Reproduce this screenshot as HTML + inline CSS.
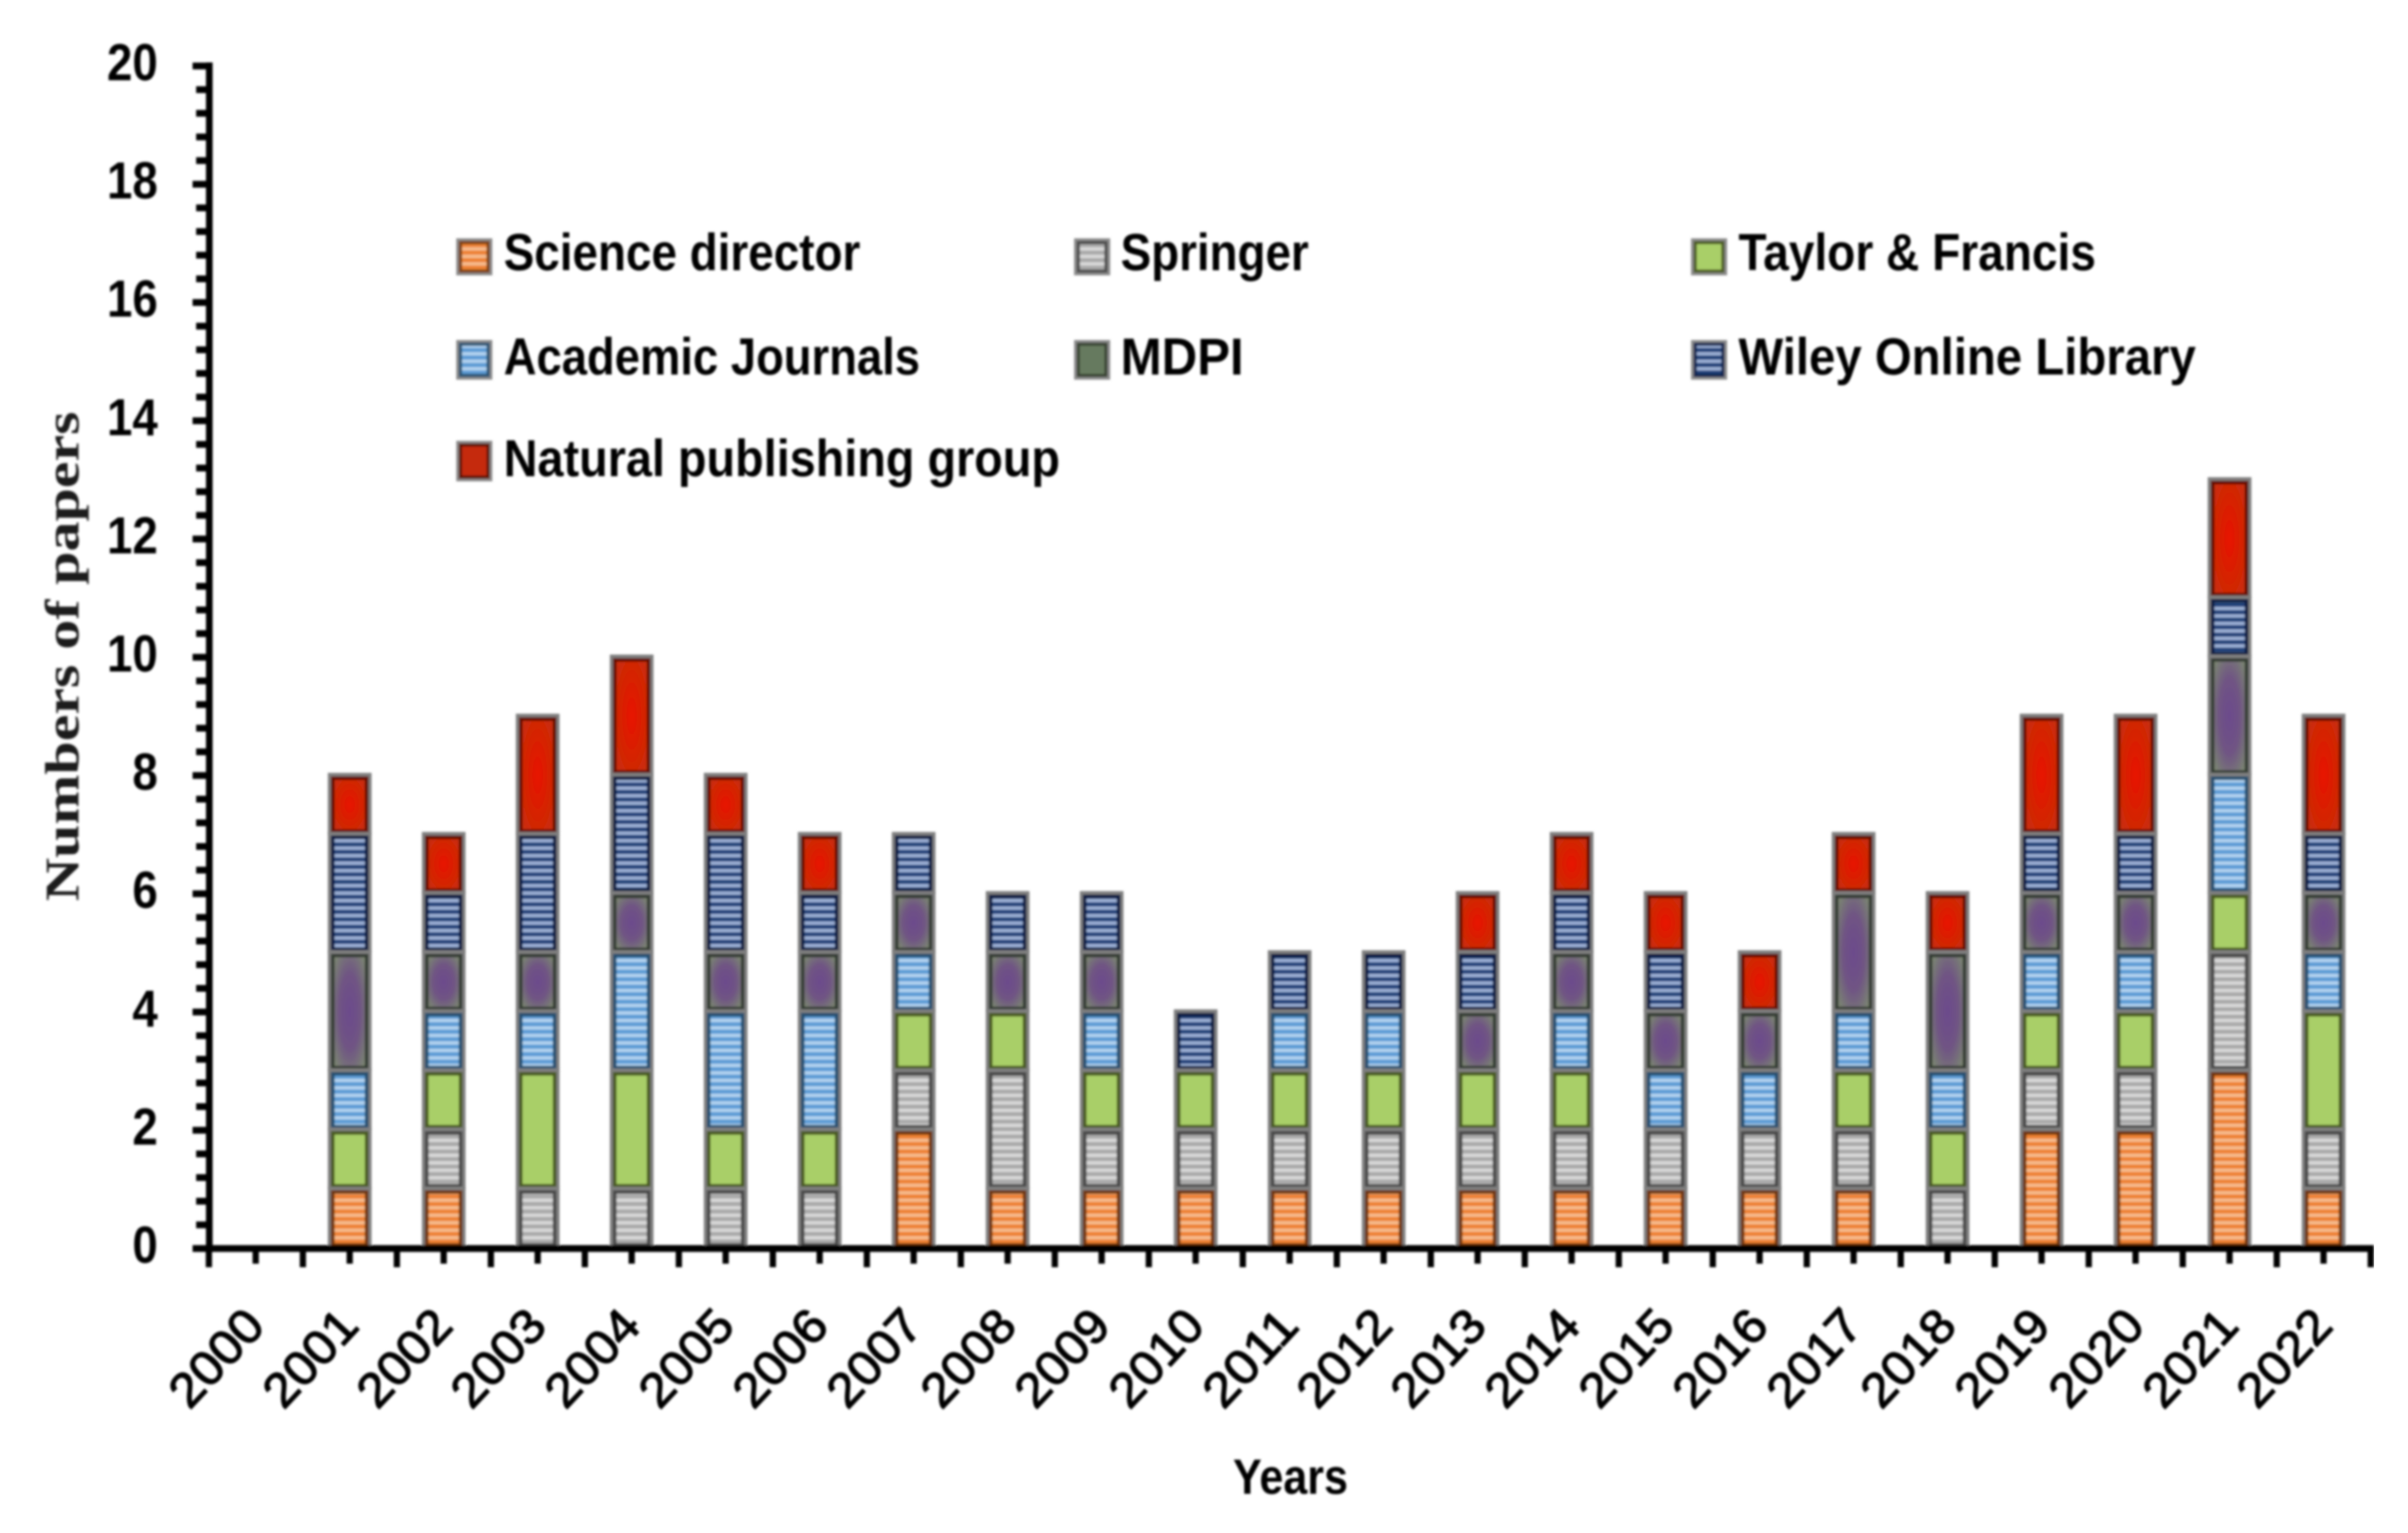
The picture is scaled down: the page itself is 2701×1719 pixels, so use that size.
<!DOCTYPE html>
<html lang="en">
<head>
<meta charset="utf-8">
<title>Numbers of papers by year</title>
<style>
html,body{margin:0;padding:0;background:#fff}
svg{display:block}
text{font-family:"Liberation Sans",sans-serif;font-weight:700;fill:#000}
</style>
</head>
<body>
<svg id="chart" xmlns="http://www.w3.org/2000/svg" width="2701" height="1719" viewBox="0 0 2701 1719">
  <defs>
    <filter id="soft" x="0" y="0" width="100%" height="100%"><feGaussianBlur stdDeviation="1.3"/></filter>
    <pattern id="hatch-orange" patternUnits="userSpaceOnUse" width="8.4" height="8.4"><rect width="8.4" height="8.4" fill="#ee8133"/><rect width="8.4" height="3.8" fill="#f6bc8e"/></pattern>
    <pattern id="hatch-grey" patternUnits="userSpaceOnUse" width="8.4" height="8.4"><rect width="8.4" height="8.4" fill="#a9a9a9"/><rect width="8.4" height="3.8" fill="#d9d9d9"/></pattern>
    <pattern id="hatch-blue" patternUnits="userSpaceOnUse" width="8.4" height="8.4"><rect width="8.4" height="8.4" fill="#5b9bd5"/><rect width="8.4" height="3.8" fill="#b4d3ef"/></pattern>
    <pattern id="hatch-navy" patternUnits="userSpaceOnUse" width="8.4" height="8.4"><rect width="8.4" height="8.4" fill="#1f3f78"/><rect width="8.4" height="3.8" fill="#9db1d6"/></pattern>
    <radialGradient id="fill-purple" cx="50%" cy="50%" r="75%"><stop offset="0%" stop-color="#6c4b8c"/><stop offset="45%" stop-color="#6f5384"/><stop offset="100%" stop-color="#7d8f6e"/></radialGradient>
    <radialGradient id="fill-red" cx="50%" cy="50%" r="65%"><stop offset="0%" stop-color="#e81200"/><stop offset="100%" stop-color="#c92e08"/></radialGradient>
  </defs>
  <rect width="2701" height="1719" fill="#fff"/>
  <g id="plot" filter="url(#soft)">
    <g id="bars"></g>
    <g id="axes"></g>
    <g>
      <g>
        <rect x="513.5" y="269" width="37" height="38" fill="none" stroke="#8c8c8c" stroke-width="3.5"/>
        <rect x="516.5" y="272" width="31" height="32" fill="url(#hatch-orange)" stroke="#7d4214" stroke-width="3.5"/>
        <text x="565" y="303" font-size="58" textLength="400" lengthAdjust="spacingAndGlyphs">Science director</text>
      </g>
      <g>
        <rect x="1206.5" y="269" width="37" height="38" fill="none" stroke="#8c8c8c" stroke-width="3.5"/>
        <rect x="1209.5" y="272" width="31" height="32" fill="url(#hatch-grey)" stroke="#4d4d4d" stroke-width="3.5"/>
        <text x="1257" y="303" font-size="58" textLength="211" lengthAdjust="spacingAndGlyphs">Springer</text>
      </g>
      <g>
        <rect x="1898.5" y="269" width="37" height="38" fill="none" stroke="#8c8c8c" stroke-width="3.5"/>
        <rect x="1901.5" y="272" width="31" height="32" fill="#a9cf68" stroke="#4d5c25" stroke-width="3.5"/>
        <text x="1950" y="303" font-size="58" textLength="401" lengthAdjust="spacingAndGlyphs">Taylor &amp; Francis</text>
      </g>
      <g>
        <rect x="513.5" y="383" width="37" height="41" fill="none" stroke="#8c8c8c" stroke-width="3.5"/>
        <rect x="516.5" y="386" width="31" height="35" fill="url(#hatch-blue)" stroke="#2f5573" stroke-width="3.5"/>
        <text x="565" y="420" font-size="58" textLength="467" lengthAdjust="spacingAndGlyphs">Academic Journals</text>
      </g>
      <g>
        <rect x="1206.5" y="383" width="37" height="41" fill="none" stroke="#8c8c8c" stroke-width="3.5"/>
        <rect x="1209.5" y="386" width="31" height="35" fill="#667a5f" stroke="#3a4436" stroke-width="3.5"/>
        <text x="1257" y="420" font-size="58" textLength="138" lengthAdjust="spacingAndGlyphs">MDPI</text>
      </g>
      <g>
        <rect x="1898.5" y="383" width="37" height="41" fill="none" stroke="#8c8c8c" stroke-width="3.5"/>
        <rect x="1901.5" y="386" width="31" height="35" fill="url(#hatch-navy)" stroke="#14264f" stroke-width="3.5"/>
        <text x="1950" y="420" font-size="58" textLength="513" lengthAdjust="spacingAndGlyphs">Wiley Online Library</text>
      </g>
      <g>
        <rect x="513.5" y="496" width="37" height="42" fill="none" stroke="#8c8c8c" stroke-width="3.5"/>
        <rect x="516.5" y="499" width="31" height="36" fill="#c52a08" stroke="#5e1406" stroke-width="3.5"/>
        <text x="565" y="534" font-size="58" textLength="624" lengthAdjust="spacingAndGlyphs">Natural publishing group</text>
      </g>
    </g>
    <text transform="translate(88 736) rotate(-90)" text-anchor="middle" font-size="54" textLength="549" lengthAdjust="spacingAndGlyphs" style="font-family:'Liberation Serif',serif;fill:#1a1a1a">Numbers of papers</text>
    <text x="1383" y="1675" font-size="56" textLength="129" lengthAdjust="spacingAndGlyphs">Years</text>
  </g>
</svg>
<script>
const years = ["2000","2001","2002","2003","2004","2005","2006","2007","2008","2009","2010","2011","2012","2013","2014","2015","2016","2017","2018","2019","2020","2021","2022"];
const yTickLabels = ["0","2","4","6","8","10","12","14","16","18","20"];
const scienceDirector = [0,1,1,0,0,0,0,2,1,1,1,1,1,1,1,1,1,1,0,2,2,3,1];
const springer        = [0,0,1,1,1,1,1,1,2,1,1,1,1,1,1,1,1,1,1,1,1,2,1];
const taylorFrancis   = [0,1,1,2,2,1,1,1,1,1,1,1,1,1,1,0,0,1,1,1,1,1,2];
const academicJournals= [0,1,1,1,2,2,2,1,0,1,0,1,1,0,1,1,1,1,1,1,1,2,1];
const mdpi            = [0,2,1,1,1,1,1,1,1,1,0,0,0,1,1,1,1,2,2,1,1,2,1];
const wileyOnline     = [0,2,1,2,2,2,1,1,1,1,1,1,1,1,1,1,0,0,0,1,1,1,1];
const naturalGroup    = [0,1,1,2,2,1,1,0,0,0,0,0,0,1,1,1,1,1,1,2,2,2,2];

const seriesList = [
  {name:"science-director", values:scienceDirector, fill:"url(#hatch-orange)", edge:"#6e3610"},
  {name:"springer", values:springer, fill:"url(#hatch-grey)", edge:"#4a4a4a"},
  {name:"taylor-francis", values:taylorFrancis, fill:"#a9cf68", edge:"#4a5a22"},
  {name:"academic-journals", values:academicJournals, fill:"url(#hatch-blue)", edge:"#284f70"},
  {name:"mdpi", values:mdpi, fill:"url(#fill-purple)", edge:"#363c34"},
  {name:"wiley-online-library", values:wileyOnline, fill:"url(#hatch-navy)", edge:"#101f42"},
  {name:"natural-publishing-group", values:naturalGroup, fill:"url(#fill-red)", edge:"#641006"}
];

const NS = "http://www.w3.org/2000/svg";
const yZero = 1400, yUnit = 66.3, yMax = 20;
const xLeft = 234.3, xStep = 105.43;
function yScale(v){ return yZero - v * yUnit; }
function xBand(i){ return xLeft + i * xStep; }
function xCenter(i){ return xBand(i) + xStep / 2 - 0.2; }
function mk(parent, tag, attrs){
  const el = document.createElementNS(NS, tag);
  for (const k in attrs) el.setAttribute(k, attrs[k]);
  parent.appendChild(el);
  return el;
}

const barsG = document.getElementById("bars");
const axesG = document.getElementById("axes");

years.forEach(function(year, i){
  let base = 0;
  const c = xCenter(i);
  seriesList.forEach(function(s){
    const v = s.values[i];
    if (!v) return;
    const top = base + v;
    const yT = yScale(top), yB = yScale(base);
    const seg = mk(barsG, "g", {});
    
    
    const halo = mk(seg, "rect", {x:c-24.5, y:yT-3, width:49, height:yB-yT+3, fill:"#808080"});
    
    
    const edge = mk(seg, "rect", {x:c-21, y:yT+1, width:42, height:yB-yT-4, fill:s.edge});
    
    
    const core = mk(seg, "rect", {x:c-17, y:yT+5, width:34, height:Math.max(0,yB-yT-11), fill:s.fill});
    
    
    base = top;
  });
});

const yAxisLine = mk(axesG, "rect", {x:231, y:yScale(yMax)-4, width:7.5, height:yZero-yScale(yMax)+8, fill:"#000"});


const xAxisLine = mk(axesG, "rect", {x:231, y:yZero-3.8, width:xBand(years.length)-231+3.5, height:7.6, fill:"#000"});



yTickLabels.forEach(function(label){
  const v = Number(label);
  const y = yScale(v);
  const tick = mk(axesG, "rect", {x:216, y:y-3.8, width:18, height:7.6, fill:"#000"});
  
  
  const t = mk(axesG, "text", {x:177, y:y+16, "text-anchor":"end", "font-size":58, textLength:label.length*28.5, lengthAdjust:"spacingAndGlyphs"});
  t.textContent = label;
  
  
  if (v < yMax) {
    for (let m = 1; m < 5; m++) {
      const minor = mk(axesG, "rect", {x:220, y:yScale(v + m * 0.4)-3.8, width:14, height:7.6, fill:"#000"});
      
      
    }
  }
});

for (let i = 0; i <= years.length; i++) {
  const major = mk(axesG, "rect", {x:xBand(i)-3.5, y:yZero, width:7, height:21, fill:"#000"});
  
  
  if (i < years.length) {
    const minor = mk(axesG, "rect", {x:xCenter(i)-3.5, y:yZero, width:7, height:17, fill:"#000"});
    
    
  }
}

years.forEach(function(year, i){
  const cx = xCenter(i) - 44, cy = 1523;
  const t = mk(axesG, "text", {transform:"translate("+cx+" "+cy+") rotate(-47)", "text-anchor":"middle", y:18, "font-size":54, textLength:127, lengthAdjust:"spacingAndGlyphs", style:"font-weight:400;stroke:#000;stroke-width:1.4px"});
  t.textContent = year;
  
  
});
</script>
</body>
</html>
